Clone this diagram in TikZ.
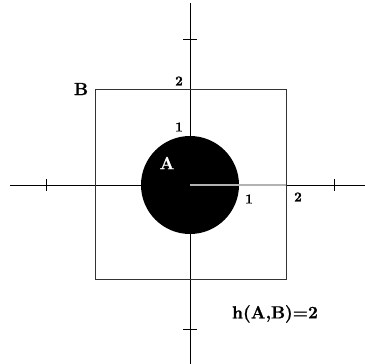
\documentclass[tikz,border=0pt]{standalone}
\usepackage{fontspec}
\newfontfamily\heavy{Latin Modern Roman}[BoldFeatures={FakeBold=1.2}]
\begin{document}
\begin{tikzpicture}[x=1pt,y=-1pt,
  lbl/.style={font=\heavy\bfseries\fontsize{13.5}{14}\selectfont, inner sep=0pt},
  big/.style={font=\heavy\bfseries\fontsize{17.5}{18}\selectfont, inner sep=0pt},
  axis/.style={line width=0.9pt, black},
  tick/.style={line width=0.9pt, black}]
\useasboundingbox (0,0) rectangle (365,364);
\coordinate (O) at (190,185);
\coordinate (R) at (286,185);
% axes
\draw[axis] (10,185) -- (365,185);
\draw[axis] (190,3) -- (190,364);
\draw[tick] (46,179) -- (46,191);
\draw[tick] (334,179) -- (334,191);
\draw[tick] (183,39) -- (197,39);
\draw[tick] (183,329) -- (197,329);
% square B
\draw[line width=0.9pt, black!80] (95,89) rectangle (286,279);
% disc A
\fill[black] (O) circle (49pt);
\draw[gray!60, line width=2.5pt] (O) -- (R);
% labels
\node[lbl] (t2) at (179,81) {2};
\node[lbl] (t1) at (179,127) {1};
\node[lbl] (r1) at (249,199) {1};
\node[lbl] (r2) at (298,197) {2};
\node[big] (B) at (81,89) {B};
\node[big, text=white] (A) at (167,163) {A};
\node[big] (h) at (275,314) {h(A,B)=2};
\end{tikzpicture}
\end{document}
